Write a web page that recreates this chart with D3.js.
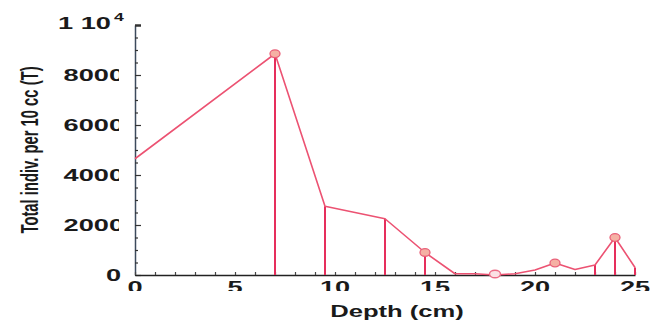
<!DOCTYPE html>
<html>
<head>
<meta charset="utf-8">
<script src="https://cdn.jsdelivr.net/npm/d3@7"></script>
<style>
  html, body { margin: 0; padding: 0; background: #fff; }
  svg { display: block; }
  text { font-family: "Liberation Sans", Arial, sans-serif; font-weight: bold; fill: #1a1a1a; }
</style>
</head>
<body>
<svg id="chart" width="651" height="323"></svg>
<script>
// ---- data ----
const depths = [0, 7, 9.5, 12.5, 14.5, 16, 17, 18, 19, 20, 21, 22, 23, 24, 25];
const totals = [4650, 8850, 2750, 2250, 900, 50, 50, 0, 50, 200, 480, 220, 400, 1500, 300];
const stemDepths = [7, 9.5, 12.5, 14.5, 23, 24, 25];
const filledMarkerDepths = [7, 14.5, 21, 24];
const hollowMarkerDepths = [18];
const xTickValues = [0, 5, 10, 15, 20, 25];
const xTickLabels = ["0", "5", "10", "15", "20", "25"];
const yTickValues = [0, 2000, 4000, 6000, 8000];
const yTickLabels = ["0", "2000", "4000", "6000", "8000"];
const xTitle = "Depth (cm)";
const yTitle = "Total indiv. per 10 cc (T)";

const svg = d3.select("#chart");
const SX = 1.6; // horizontal stretch of the text in the reference

const x = d3.scaleLinear().domain([0, 25]).range([135, 635]);
const y = d3.scaleLinear().domain([0, 10000]).range([275, 25]);
const valueAt = d => totals[depths.indexOf(d)];

const defs = svg.append("defs");
defs.append("clipPath").attr("id", "ylabClip")
  .append("rect").attr("x", 0).attr("y", 0).attr("width", 119).attr("height", 323);
defs.append("clipPath").attr("id", "xlabClip")
  .append("rect").attr("x", 0).attr("y", 0).attr("width", 651).attr("height", 291);

// ---- axes ----
const yAxis = d3.axisLeft(y).tickValues(d3.range(0, 10001, 500))
  .tickSizeInner(0).tickSizeOuter(0).tickFormat("");
const yg = svg.append("g").attr("transform", `translate(${x(0)},0)`).call(yAxis);
yg.select(".domain").attr("stroke", "#3c4a5c").attr("stroke-width", 1.5);
yg.selectAll(".tick line")
  .attr("x2", d => d === 10000 ? 6 : (d % 2000 === 0 ? 6 : 3))
  .attr("stroke", "#333")
  .attr("stroke-width", d => d === 10000 ? 2.5 : 1.2);

const xAxis = d3.axisBottom(x).tickValues(d3.range(0, 26, 1))
  .tickSizeInner(0).tickSizeOuter(0).tickFormat("");
const xg = svg.append("g").attr("transform", `translate(0,${y(0)})`).call(xAxis);
xg.select(".domain").attr("stroke", "#222").attr("stroke-width", 1.5);
xg.selectAll(".tick line").attr("y2", -3).attr("stroke", "#444").attr("stroke-width", 1.2);

// ---- tick labels ----
svg.append("g").selectAll("g").data(yTickValues).join("g")
  .attr("clip-path", d => d === 0 ? null : "url(#ylabClip)")
  .append("text")
  .attr("text-anchor", "end")
  .attr("font-size", 17)
  .attr("transform", d => `translate(${d === 0 ? 121 : 124},${y(d) + 6}) scale(${SX},1)`)
  .text((d, i) => yTickLabels[i]);

svg.append("text").attr("text-anchor", "end").attr("font-size", 17)
  .attr("transform", `translate(111,${y(10000) + 4}) scale(${SX},1)`).text("1 10");
svg.append("text").attr("font-size", 11)
  .attr("transform", `translate(114,${y(10000) - 4}) scale(${SX},1)`).text("4");

svg.append("g").attr("clip-path", "url(#xlabClip)")
  .selectAll("text").data(xTickValues).join("text")
  .attr("text-anchor", "middle")
  .attr("font-size", 17)
  .attr("transform", d => `translate(${x(d)},${y(0) + 18}) scale(${SX},1)`)
  .text((d, i) => xTickLabels[i]);

// ---- titles ----
svg.append("text").attr("text-anchor", "middle").attr("font-size", 16)
  .attr("transform", `translate(397,317) scale(${SX},1)`).text(xTitle);
svg.append("text").attr("text-anchor", "middle").attr("font-size", 14.8)
  .attr("transform", `translate(29,150) scale(${SX},1) rotate(-90)`)
  .attr("dy", "0.36em").text(yTitle);

// ---- stems ----
svg.append("g").selectAll("line").data(stemDepths).join("line")
  .attr("x1", d => x(d)).attr("x2", d => x(d))
  .attr("y1", d => y(valueAt(d))).attr("y2", y(0))
  .attr("stroke", "#e62e5c").attr("stroke-width", 2);

// ---- line ----
const line = d3.line().x(d => x(d[0])).y(d => y(d[1]));
svg.append("path").datum(depths.map((d, i) => [d, totals[i]]))
  .attr("d", line).attr("fill", "none")
  .attr("stroke", "#ec5272").attr("stroke-width", 1.6).attr("stroke-linejoin", "round");

// ---- markers ----
svg.append("g").selectAll("ellipse").data(filledMarkerDepths).join("ellipse")
  .attr("cx", d => x(d)).attr("cy", d => y(valueAt(d)))
  .attr("rx", 5).attr("ry", 3.8)
  .attr("fill", "#f5b1a4").attr("stroke", "#e96078").attr("stroke-width", 1.3);
svg.append("g").selectAll("ellipse").data(hollowMarkerDepths).join("ellipse")
  .attr("cx", d => x(d)).attr("cy", d => y(valueAt(d)) - 1)
  .attr("rx", 5.5).attr("ry", 3.8)
  .attr("fill", "#fbe0e4").attr("stroke", "#ec6a85").attr("stroke-width", 1.4);
</script>
</body>
</html>
